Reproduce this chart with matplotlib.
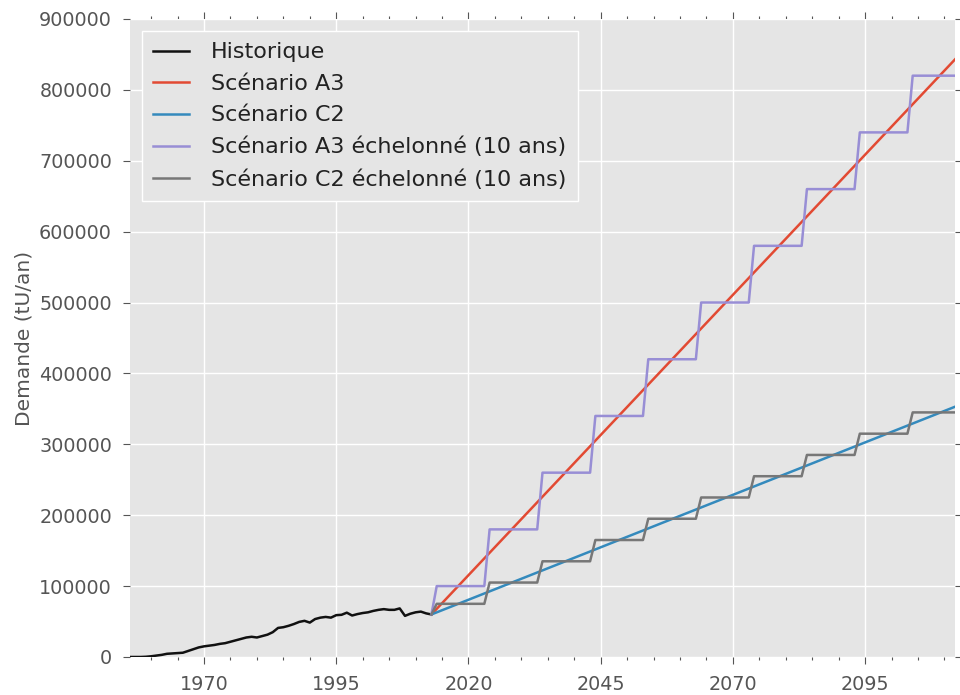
import matplotlib
matplotlib.use("Agg")
import matplotlib.pyplot as plt
import numpy as np

# ---- data ----
hist_years = list(range(1956, 2014))
hist_values = [0, 0, 0, 300, 1000, 2000, 3000, 4500, 5000, 5500,
               6000, 8500, 11000, 13500, 15000, 16000, 17000, 18500, 19500, 21500,
               23500, 25500, 27500, 28500, 27500, 29500, 31500, 35000, 41000, 42000,
               44000, 46500, 49500, 51000, 48500, 53500, 55500, 56500, 55500, 59000,
               59500, 62500, 58500, 60500, 62000, 63000, 65000, 66500, 67500, 66500,
               66500, 68500, 58000, 61000, 63000, 64000, 61500, 60000]

line_years = [2013, 2112]
a3_line = [60000, 843000]
c2_line = [60000, 353000]

step_starts = [2014, 2024, 2034, 2044, 2054, 2064, 2074, 2084, 2094, 2104]
a3_steps = [100000, 180000, 260000, 340000, 420000, 500000, 580000, 660000, 740000, 820000]
c2_steps = [75000, 105000, 135000, 165000, 195000, 225000, 255000, 285000, 315000, 345000]
step_end = 2112
start_year, start_value = 2013, 60000

xticks = [1970, 1995, 2020, 2045, 2070, 2095]

labels = ["Historique", "Scénario A3", "Scénario C2",
          "Scénario A3 échelonné (10 ans)", "Scénario C2 échelonné (10 ans)"]

# yearly staircase series
proj_years = list(range(start_year, step_end + 1))
def stair(levels):
    out = []
    for y in proj_years:
        if y < step_starts[0]:
            out.append(start_value)
        else:
            idx = max(i for i, s in enumerate(step_starts) if s <= y)
            out.append(levels[idx])
    return out

a3_stair = stair(a3_steps)
c2_stair = stair(c2_steps)

# ---- plot ----
plt.style.use("ggplot")
plt.rcParams['font.family'] = ['DejaVu Sans']

fig = plt.figure(figsize=(9.6, 6.95), dpi=100)
ax = fig.add_axes([0.1354, 0.0547, 0.8594, 0.918])
ax.set_facecolor("#E5E5E5")

lw = 1.8
ax.plot(hist_years, hist_values, color="#111111", lw=lw, label=labels[0])
ax.plot(line_years, a3_line, color="#E24A33", lw=lw, label=labels[1])
ax.plot(line_years, c2_line, color="#348ABD", lw=lw, label=labels[2])
ax.plot(proj_years, a3_stair, color="#988ED5", lw=lw, label=labels[3])
ax.plot(proj_years, c2_stair, color="#777777", lw=lw, label=labels[4])

ax.set_xlim(1956, 2112)
ax.set_ylim(0, 900000)
ax.set_xticks(xticks)
ax.set_xticks(list(range(1960, 2112, 5)), minor=True)
ax.set_yticks(list(range(0, 900001, 100000)))
ax.grid(True, which="major", color="white", lw=1.0)
ax.grid(False, which="minor")
for s in ax.spines.values():
    s.set_visible(False)

ax.tick_params(axis="both", which="both", direction="out", color="#555555",
               labelcolor="#555555", top=True, right=True, labelsize=13.8)
ax.tick_params(which="major", length=5, width=0.8)
ax.tick_params(which="minor", length=2.5, width=0.8)
ax.tick_params(axis="x", pad=8)
ax.tick_params(axis="y", pad=8)

ax.set_ylabel("Demande (tU/an)", fontsize=14.5, color="#555555", labelpad=4)

leg = ax.legend(loc="upper left", fontsize=16, frameon=True, fancybox=False,
                handlelength=1.6, borderpad=0.5, labelspacing=0.52,
                handletextpad=1.0, borderaxespad=0.55)
leg.get_frame().set_facecolor("#E5E5E5")
leg.get_frame().set_edgecolor("white")
leg.get_frame().set_linewidth(1.0)
leg.get_frame().set_alpha(1.0)
for t in leg.get_texts():
    t.set_color("#222222")

fig.savefig("out.png", dpi=100, facecolor="white")
